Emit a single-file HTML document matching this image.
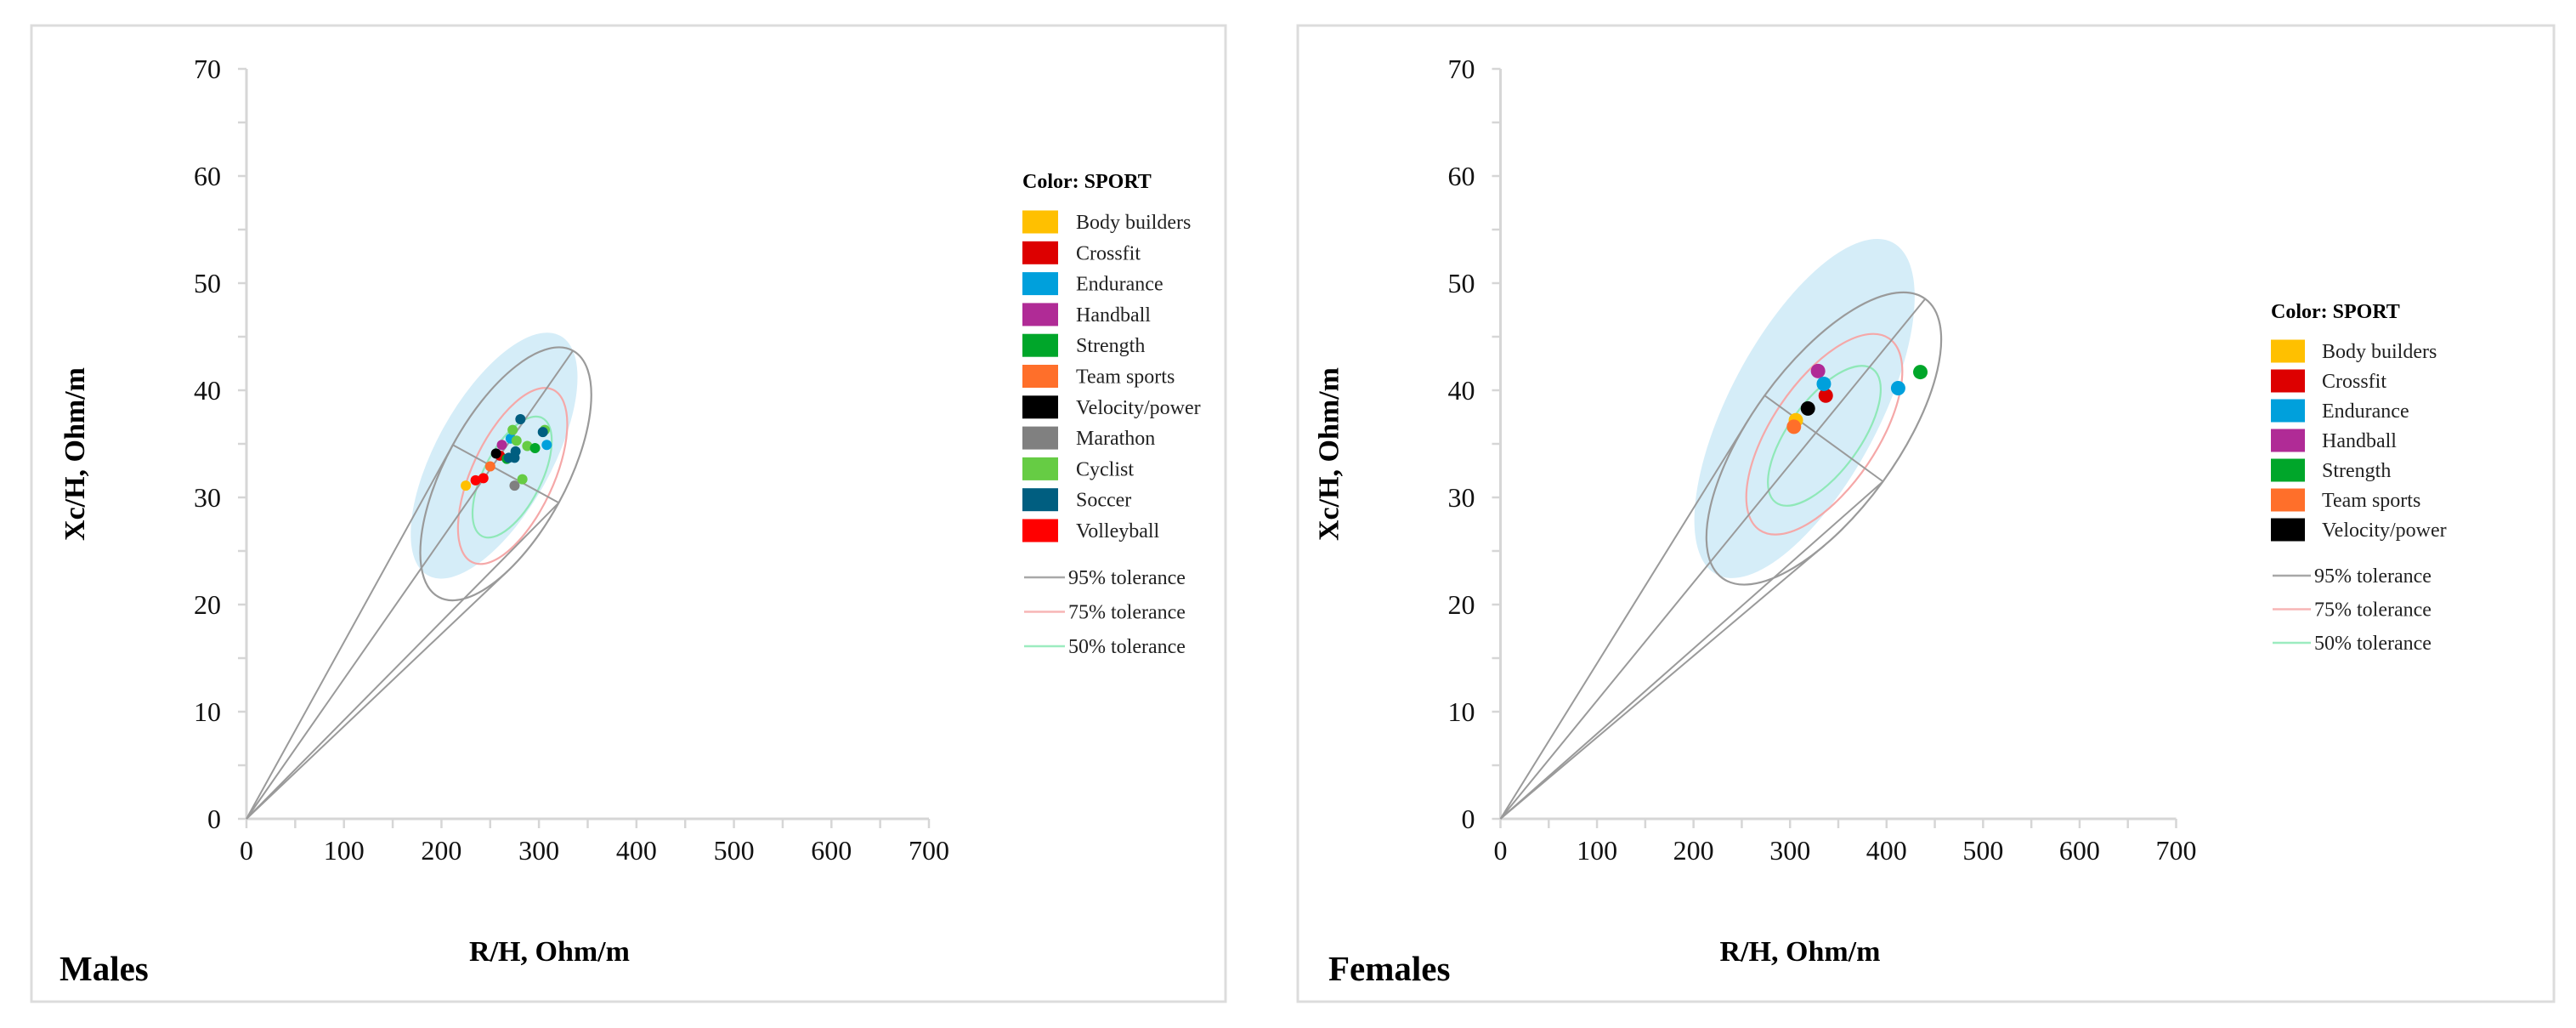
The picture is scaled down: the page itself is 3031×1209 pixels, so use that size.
<!DOCTYPE html>
<html><head><meta charset="utf-8">
<style>
html,body{margin:0;padding:0;background:#fff;}
svg{display:block;font-family:"Liberation Serif",serif;}
</style></head>
<body>
<svg id="root" width="3031" height="1209" viewBox="0 0 3031 1209" xmlns="http://www.w3.org/2000/svg">
  <rect x="37" y="30" width="1405" height="1148" fill="#fff" stroke="#dcdcdc" stroke-width="3"/>
  <rect x="1527" y="30" width="1478" height="1148" fill="#fff" stroke="#dcdcdc" stroke-width="3"/>
  <g id="males"></g>
  <g id="females"></g>
</svg>
<script>
// ---------- data ----------
const xTicks = [0,100,200,300,400,500,600,700];
const yTicks = [0,10,20,30,40,50,60,70];
const sportNamesM = ["Body builders","Crossfit","Endurance","Handball","Strength","Team sports","Velocity/power","Marathon","Cyclist","Soccer","Volleyball"];
const sportColorsM = ["#FFC000","#DD0000","#00A0DC","#B02B96","#00A62A","#FF6F2A","#000000","#808080","#66CC44","#005E80","#FF0000"];
const sportNamesF = ["Body builders","Crossfit","Endurance","Handball","Strength","Team sports","Velocity/power"];
const sportColorsF = ["#FFC000","#DD0000","#00A0DC","#B02B96","#00A62A","#FF6F2A","#000000"];
// males points
const maleSport = ["Body builders","Volleyball","Volleyball","Team sports","Crossfit","Velocity/power","Handball","Strength","Soccer","Soccer","Soccer","Endurance","Cyclist","Cyclist","Cyclist","Strength","Cyclist","Soccer","Soccer","Endurance","Cyclist","Marathon"];
const maleR  = [225,235,243,250,260,256,262,267,269,276,275,271,273,277,288,296,306,281,304,308,283,275];
const maleXc = [31.1,31.6,31.8,32.9,33.9,34.1,34.9,33.6,33.7,34.3,33.7,35.5,36.3,35.3,34.8,34.6,36.3,37.3,36.1,34.9,31.7,31.1];
// females points
const femaleSport = ["Handball","Crossfit","Endurance","Endurance","Velocity/power","Body builders","Team sports","Strength"];
const femaleR  = [329,337,335,412,318.5,306,304,435];
const femaleXc = [41.8,39.5,40.6,40.2,38.3,37.2,36.6,41.7];
// tolerance ellipses: center (R, Xc), semi axes (px), angle (deg)
const maleEllCR  = [254,266,273,272.5];
const maleEllCX  = [33.9,32.2,32.0,31.9];
const maleEllA   = [161,165,112,78];
const maleEllB   = [68,71,48,34];
const maleEllAng = [-61,-61.4,-65,-63];
const femEllCR  = [315,335,335.5,335.5];
const femEllCX  = [38.3,35.5,35.9,35.75];
const femEllA   = [221,203,136,97];
const femEllB   = [88,86,62,42];
const femEllAng = [-62,-54,-56,-54];
const tolLabels = ["95% tolerance","75% tolerance","50% tolerance"];

const NS = "http://www.w3.org/2000/svg";
function mk(parent, tag, attrs, text){
  const e = document.createElementNS(NS, tag);
  for (const k in attrs) e.setAttribute(k, attrs[k]);
  if (text !== undefined) e.textContent = text;
  parent.appendChild(e);
  return e;
}
const ellStyles = [
  {fill:"#d5edf8", stroke:"none", w:0},
  {fill:"none", stroke:"#9a9a9a", w:2.2},
  {fill:"none", stroke:"#f5a8a8", w:2.2},
  {fill:"none", stroke:"#8fe8b8", w:2.2}
];
const ellNames = ["confidence-ellipse-fill","tolerance-95-ellipse","tolerance-75-ellipse","tolerance-50-ellipse"];

function drawChart(g, o){
  const X = v => o.x0 + v*o.kx;
  const Y = v => o.y0 - v*o.ky;
  // axes
  let e = mk(g,"line",{x1:X(0),y1:Y(0),x2:X(700),y2:Y(0),stroke:"#d6d6d6","stroke-width":3});
   
  e = mk(g,"line",{x1:X(0),y1:Y(0),x2:X(0),y2:Y(70),stroke:"#d6d6d6","stroke-width":3});
   
  for (let v=0; v<=700; v+=50){
    e = mk(g,"line",{x1:X(v),y1:Y(0),x2:X(v),y2:Y(0)+11,stroke:"#d6d6d6","stroke-width":2.5});
     
  }
  for (let v=0; v<=70; v+=5){
    e = mk(g,"line",{x1:X(0)-10,y1:Y(v),x2:X(0),y2:Y(v),stroke:"#d6d6d6","stroke-width":2.5});
     
  }
  xTicks.forEach(v=>{
    const t = mk(g,"text",{x:X(v),y:Y(0)+48,"font-size":32,"text-anchor":"middle",fill:"#111"}, String(v));
     
  });
  yTicks.forEach(v=>{
    const t = mk(g,"text",{x:X(0)-30,y:Y(v)+11,"font-size":32,"text-anchor":"end",fill:"#111"}, String(v));
     
  });
  // titles
  let t = mk(g,"text",{x:X(0)-203,y:(Y(0)+Y(70))/2,"font-size":34,"font-weight":"bold","text-anchor":"middle",transform:`rotate(-90 ${X(0)-191} ${(Y(0)+Y(70))/2})`},"Xc/H, Ohm/m");
   
  t = mk(g,"text",{x:(X(0)+X(700))/2-45,y:1130,"font-size":34,"font-weight":"bold","text-anchor":"middle"},"R/H, Ohm/m");
   
  t = mk(g,"text",{x:o.labelX,y:1153,"font-size":41,"font-weight":"bold"},o.label);
   

  // ellipses
  const E = o.ell;
  for (let i=0;i<E.cr.length;i++){
    const cx = X(E.cr[i]), cy = Y(E.cx[i]);
    const s = ellStyles[i];
    const el = mk(g,"ellipse",{cx:cx,cy:cy,rx:E.a[i],ry:E.b[i],transform:`rotate(${E.ang[i]} ${cx} ${cy})`,fill:s.fill,stroke:s.stroke,"stroke-width":s.w});
    
    
  }
  // 95% construction lines
  {
    const cx = X(E.cr[1]), cy = Y(E.cx[1]);
    const th = E.ang[1]*Math.PI/180;
    const ux = Math.cos(th), uy = Math.sin(th), vx = -Math.sin(th), vy = Math.cos(th);
    const a = E.a[1], b = E.b[1];
    const ox = X(0), oy = Y(0);
    const stroke = "#9a9a9a";
    const line = (x1,y1,x2,y2,name)=>{
      const l = mk(g,"line",{x1,y1,x2,y2,stroke,"stroke-width":2});
      
      
    };
    line(cx-b*vx, cy-b*vy, cx+b*vx, cy+b*vy, 'minor-axis-line');
    line(ox, oy, cx+a*ux, cy+a*uy, 'origin-to-major-end-line');
    line(ox, oy, cx+b*vx, cy+b*vy, 'origin-to-minor-end-line');
    // tangent points
    let minA=1e9, maxA=-1e9, pMin=null, pMax=null;
    for (let k=0;k<720;k++){
      const p = k/720*2*Math.PI;
      const px = cx + a*Math.cos(p)*ux + b*Math.sin(p)*vx;
      const py = cy + a*Math.cos(p)*uy + b*Math.sin(p)*vy;
      const ang = Math.atan2(oy-py, px-ox);
      if (ang<minA){minA=ang;pMin=[px,py];}
      if (ang>maxA){maxA=ang;pMax=[px,py];}
    }
    line(ox, oy, pMin[0], pMin[1], 'origin-tangent-line');
    line(ox, oy, pMax[0], pMax[1], 'origin-tangent-line');
  }
  // points
  for (let i=0;i<o.sport.length;i++){
    const ci = o.names.indexOf(o.sport[i]);
    const c = mk(g,"circle",{cx:X(o.R[i]),cy:Y(o.Xc[i]),r:o.r,fill:o.colors[ci]});
    
    
  }
  // legend
  const L = o.leg;
  t = mk(g,"text",{x:L.sx,y:L.titleY,"font-size":24,"font-weight":"bold"},"Color: SPORT");
   
  o.names.forEach((n,i)=>{
    const y = L.rowY + i*L.step;
    const r = mk(g,"rect",{x:L.sx,y:y-13.5,width:L.sw,height:27,fill:o.colors[i]});
     
    const tx = mk(g,"text",{x:L.tx,y:y+8,"font-size":24,fill:"#222"},n);
     
  });
  const tolColors = ["#a8a8a8","#f7b5b5","#9cecc0"];
  tolLabels.forEach((n,i)=>{
    const y = L.tolY + i*L.tolStep;
    const l = mk(g,"line",{x1:L.sx+2,y1:y,x2:L.lx2,y2:y,stroke:tolColors[i],"stroke-width":2.5});
     
    const tx = mk(g,"text",{x:L.lx2+4,y:y+8,"font-size":24,fill:"#222"},n);
     
  });
}

drawChart(document.getElementById('males'), {
  x0:290, kx:803/700, y0:963, ky:12.6, label:"Males", labelX:70, r:6,
  sport:maleSport, R:maleR, Xc:maleXc, names:sportNamesM, colors:sportColorsM,
  ell:{cr:maleEllCR,cx:maleEllCX,a:maleEllA,b:maleEllB,ang:maleEllAng},
  leg:{sx:1203, sw:42, tx:1266, titleY:221, rowY:261, step:36.3, tolY:679, tolStep:40.5, lx2:1253}
});
drawChart(document.getElementById('females'), {
  x0:1765.5, kx:795/700, y0:963, ky:12.6, label:"Females", labelX:1563, r:8.5,
  sport:femaleSport, R:femaleR, Xc:femaleXc, names:sportNamesF, colors:sportColorsF,
  ell:{cr:femEllCR,cx:femEllCX,a:femEllA,b:femEllB,ang:femEllAng},
  leg:{sx:2672, sw:40, tx:2732, titleY:374, rowY:413, step:35, tolY:677, tolStep:39.5, lx2:2719}
});
</script>
</body></html>
